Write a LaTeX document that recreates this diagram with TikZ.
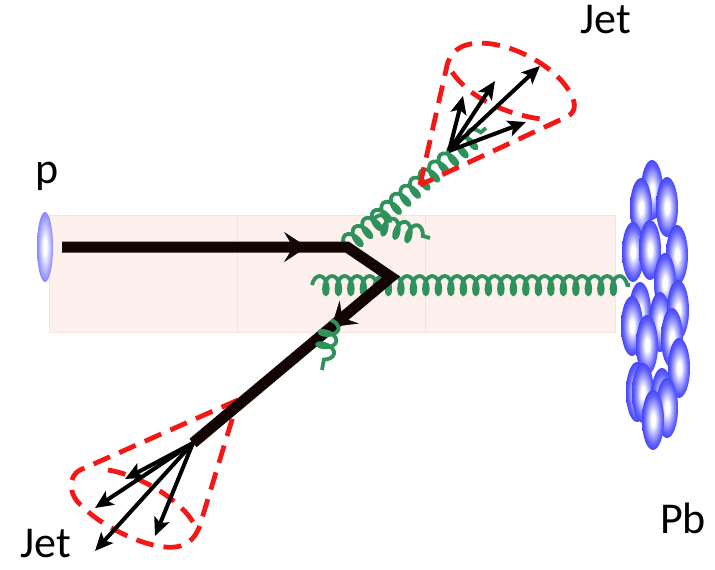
\documentclass[tikz,border=0pt]{standalone}
\usepackage{fontspec}
\setmainfont{Carlito}
\usetikzlibrary{arrows.meta,decorations.pathmorphing,decorations.markings}

\definecolor{gluongreen}{RGB}{46,146,90}
\definecolor{conered}{RGB}{245,22,22}
\definecolor{bandpink}{RGB}{253,240,237}
\definecolor{bandline}{RGB}{249,226,222}
\definecolor{quarkblack}{RGB}{20,5,5}
\definecolor{nucA}{RGB}{180,180,255}
\definecolor{nucB}{RGB}{100,100,255}
\definecolor{nucC}{RGB}{70,70,250}
\definecolor{proA}{RGB}{200,200,255}
\definecolor{proB}{RGB}{135,135,255}

% nucleon look: white core fading to blue rim (rim at 25bp)
\pgfdeclareradialshading{nucleon}{\pgfpoint{0bp}{0bp}}{color(0bp)=(white); color(5bp)=(white); color(12bp)=(nucA); color(20bp)=(nucB); color(25bp)=(nucC); color(50bp)=(nucC)}
\pgfdeclareradialshading{proton}{\pgfpoint{0bp}{0bp}}{color(0bp)=(white); color(5bp)=(white); color(14bp)=(proA); color(25bp)=(proB); color(50bp)=(proB)}

\tikzset{
  lbl/.style={font=\fontsize{44}{50}\selectfont, inner sep=0pt},
  quark/.style={draw=quarkblack, line width=11pt, line join=miter},
  quarkmark/.style={decorate, decoration={markings,
      mark=at position #1 with {\arrow[quarkblack]{Stealth[length=23pt, width=30pt, inset=9pt]}}}},
  gluon/.style={draw=gluongreen, line width=3.8pt, decorate,
      decoration={coil, amplitude=9pt, segment length=12.5pt, aspect=0.5}},
  jetarrow/.style={draw=black, line width=4pt,
      -{Stealth[length=18pt, width=16pt, inset=4pt]}},
  cone/.style={draw=conered, line width=4.8pt, dash pattern=on 18pt off 10pt, line join=round},
}

\begin{document}
\begin{tikzpicture}[x=1pt, y=-1pt]
  \useasboundingbox (0,0) rectangle (715,570);

  % interaction region
  \fill[bandpink] (49,215) rectangle (615,332);
  \draw[bandline, line width=0.6pt] (49,215) rectangle (615,332);
  \draw[bandline, line width=0.6pt] (237,215) -- (237,332) (425,215) -- (425,332);

  % proton
  \shade[shading=proton] (45,247) ellipse [x radius=8pt, y radius=35pt];

  % lead nucleus
  \foreach \cx/\cy in {652/190, 641/208, 667/207, 633/252, 650/250, 677/255,
                       665/283, 640/312, 632/326, 660/322, 678/310, 647/345,
                       672/338, 679/368, 637/392, 643/393, 662/398, 667/408, 653/420}
    \shade[shading=nucleon] (\cx,\cy) ellipse [x radius=11pt, y radius=30pt];

  % vertices and end points
  \coordinate (qin)    at (62,247);
  \coordinate (qkink)  at (347,247);
  \coordinate (qvert)  at (391,277);
  \coordinate (qsplit) at (193,443);
  \coordinate (jt)     at (449,151);

  % gluons
  \coordinate (g1a) at (345,247);  \coordinate (g1b) at (486,128);
  \coordinate (g2a) at (372,222);  \coordinate (g2b) at (430,238);
  \coordinate (g3a) at (312,285);  \coordinate (g3b) at (630,285);
  \coordinate (g4a) at (331,320);  \coordinate (g4b) at (322,370);
  \draw[gluon] (g3a) -- (g3b);
  \draw[gluon] (g1a) -- (g1b);
  \draw[gluon] (g2a) -- (g2b);

  % jet cones
  \draw[cone] (420,185) -- (446,70) .. controls (450,45) and (470,41) .. (492,44)
              .. controls (530,50) and (568,78) .. (574,102)
              .. controls (576,112) and (570,116) .. (560,120) -- cycle;
  \draw[cone] (452,72) .. controls (470,98) and (505,115) .. (548,120);
  \draw[cone] (238,400) -- (80,470) .. controls (68,476) and (68,495) .. (82,506)
              .. controls (100,525) and (140,545) .. (165,547)
              .. controls (185,549) and (195,540) .. (200,525) -- cycle;
  \draw[cone] (108,470) .. controls (140,475) and (180,500) .. (193,522);

  % quark line
  \draw[quark] (qin) -- (qkink) -- (qvert) -- (qsplit);
  \path[quarkmark=0.86] (qin) -- (qkink);
  \path[quarkmark=0.30] (qvert) -- (qsplit);
  \draw[gluon] (g4a) -- (g4b);

  % upper jet
  \coordinate (ta1) at (463,96);
  \coordinate (ta2) at (495,81);
  \coordinate (ta3) at (540,66);
  \coordinate (ta4) at (526,122);
  \foreach \t in {ta1,ta2,ta3,ta4} \draw[jetarrow] (jt) -- (\t);

  % lower jet
  \coordinate (ba1) at (125,479);
  \coordinate (ba2) at (95,508);
  \coordinate (ba3) at (95,551);
  \coordinate (ba4) at (155,536);
  \foreach \t in {ba1,ba2,ba3,ba4} \draw[jetarrow] (qsplit) -- (\t);

  % labels
  \node[lbl, anchor=base] (plabel)  at (47,183)  {p};
  \node[lbl, anchor=base] (jettop)  at (606,33)  {Jet};
  \node[lbl, anchor=base] (jetbot)  at (46,557)  {Jet};
  \node[lbl, anchor=base] (pblabel) at (683,533) {Pb};
\end{tikzpicture}
\end{document}
